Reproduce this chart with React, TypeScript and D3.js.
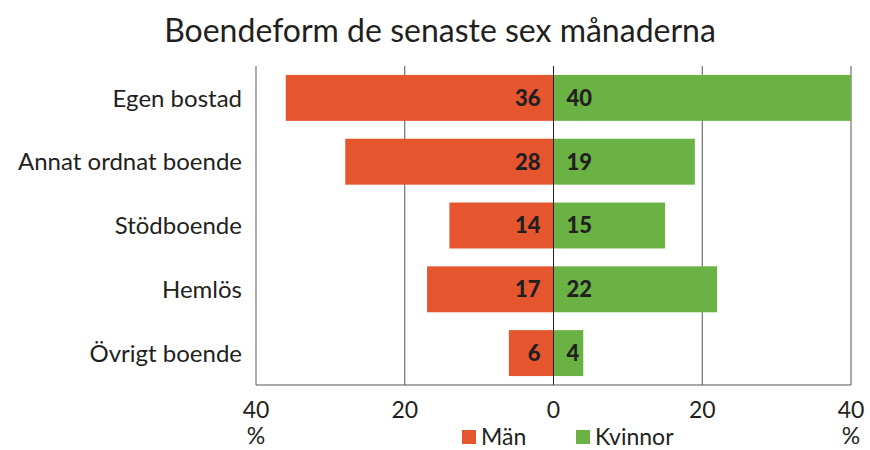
import React from 'react'
import * as d3 from 'd3'

// Boendeform, andel (%) per kön
const categories = ['Egen bostad', 'Annat ordnat boende', 'Stödboende', 'Hemlös', 'Övrigt boende']
const menValues = [36, 28, 14, 17, 6]
const womenValues = [40, 19, 15, 22, 4]
const tickValues = [-40, -20, 0, 20, 40]

const RED = '#e5562f'
const GREEN = '#6ab244'
const INK = '#231f20'
const FONT = 'Lato, "Open Sans", sans-serif'

export default function App() {
  const width = 870
  const height = 450
  const left = 256
  const right = 851
  const top = 66
  const bottom = 385

  const x = d3.scaleLinear().domain([-40, 40]).range([left, right])
  const y = d3.scaleBand<string>().domain(categories).range([top, bottom]).paddingInner(0.28).paddingOuter(0.14)
  const x0 = x(0)

  return (
    <svg width={width} height={height} style={{ position: 'absolute', left: 0, top: 0 }} fontFamily={FONT}>
      <rect width={width} height={height} fill="#fff" />
      <text x={440} y={42} textAnchor="middle" fontSize={32} fill={INK}>
        Boendeform de senaste sex månaderna
      </text>

      {/* gridlines and box */}
      {tickValues.map(t => (
        <line key={t} x1={x(t)} x2={x(t)} y1={top} y2={bottom} stroke={t === 0 ? INK : '#555'} strokeWidth={1} />
      ))}
      <line x1={left} x2={right} y1={bottom} y2={bottom} stroke="#555" strokeWidth={1} />

      {categories.map((c, i) => {
        const by = y(c) as number
        const bh = y.bandwidth()
        const cy = by + bh / 2
        return (
          <g key={c}>
            <rect x={x(-menValues[i])} y={by} width={x0 - x(-menValues[i])} height={bh} fill={RED} />
            <rect x={x0} y={by} width={x(womenValues[i]) - x0} height={bh} fill={GREEN} />
            <line x1={x0} x2={x0} y1={by} y2={by + bh} stroke={INK} strokeWidth={1} />
            <text x={x0 - 13} y={cy} dy="0.36em" textAnchor="end" fontSize={22} fontWeight={900} fill={INK}>
              {menValues[i]}
            </text>
            <text x={x0 + 13} y={cy} dy="0.36em" textAnchor="start" fontSize={22} fontWeight={900} fill={INK}>
              {womenValues[i]}
            </text>
            <text x={242} y={cy} dy="0.36em" textAnchor="end" fontSize={24} fill={INK}>
              {c}
            </text>
          </g>
        )
      })}

      {tickValues.map(t => (
        <text key={t} x={x(t)} y={418} textAnchor="middle" fontSize={23} fill={INK}>
          {Math.abs(t)}
        </text>
      ))}
      <text x={x(-40)} y={444} textAnchor="middle" fontSize={23} fill={INK}>%</text>
      <text x={x(40)} y={444} textAnchor="middle" fontSize={23} fill={INK}>%</text>

      {/* legend */}
      <rect x={462} y={430} width={14} height={14} fill={RED} />
      <text x={481} y={445} fontSize={23} fill={INK}>Män</text>
      <rect x={576} y={430} width={14} height={14} fill={GREEN} />
      <text x={595} y={445} fontSize={23} fill={INK}>Kvinnor</text>
    </svg>
  )
}
